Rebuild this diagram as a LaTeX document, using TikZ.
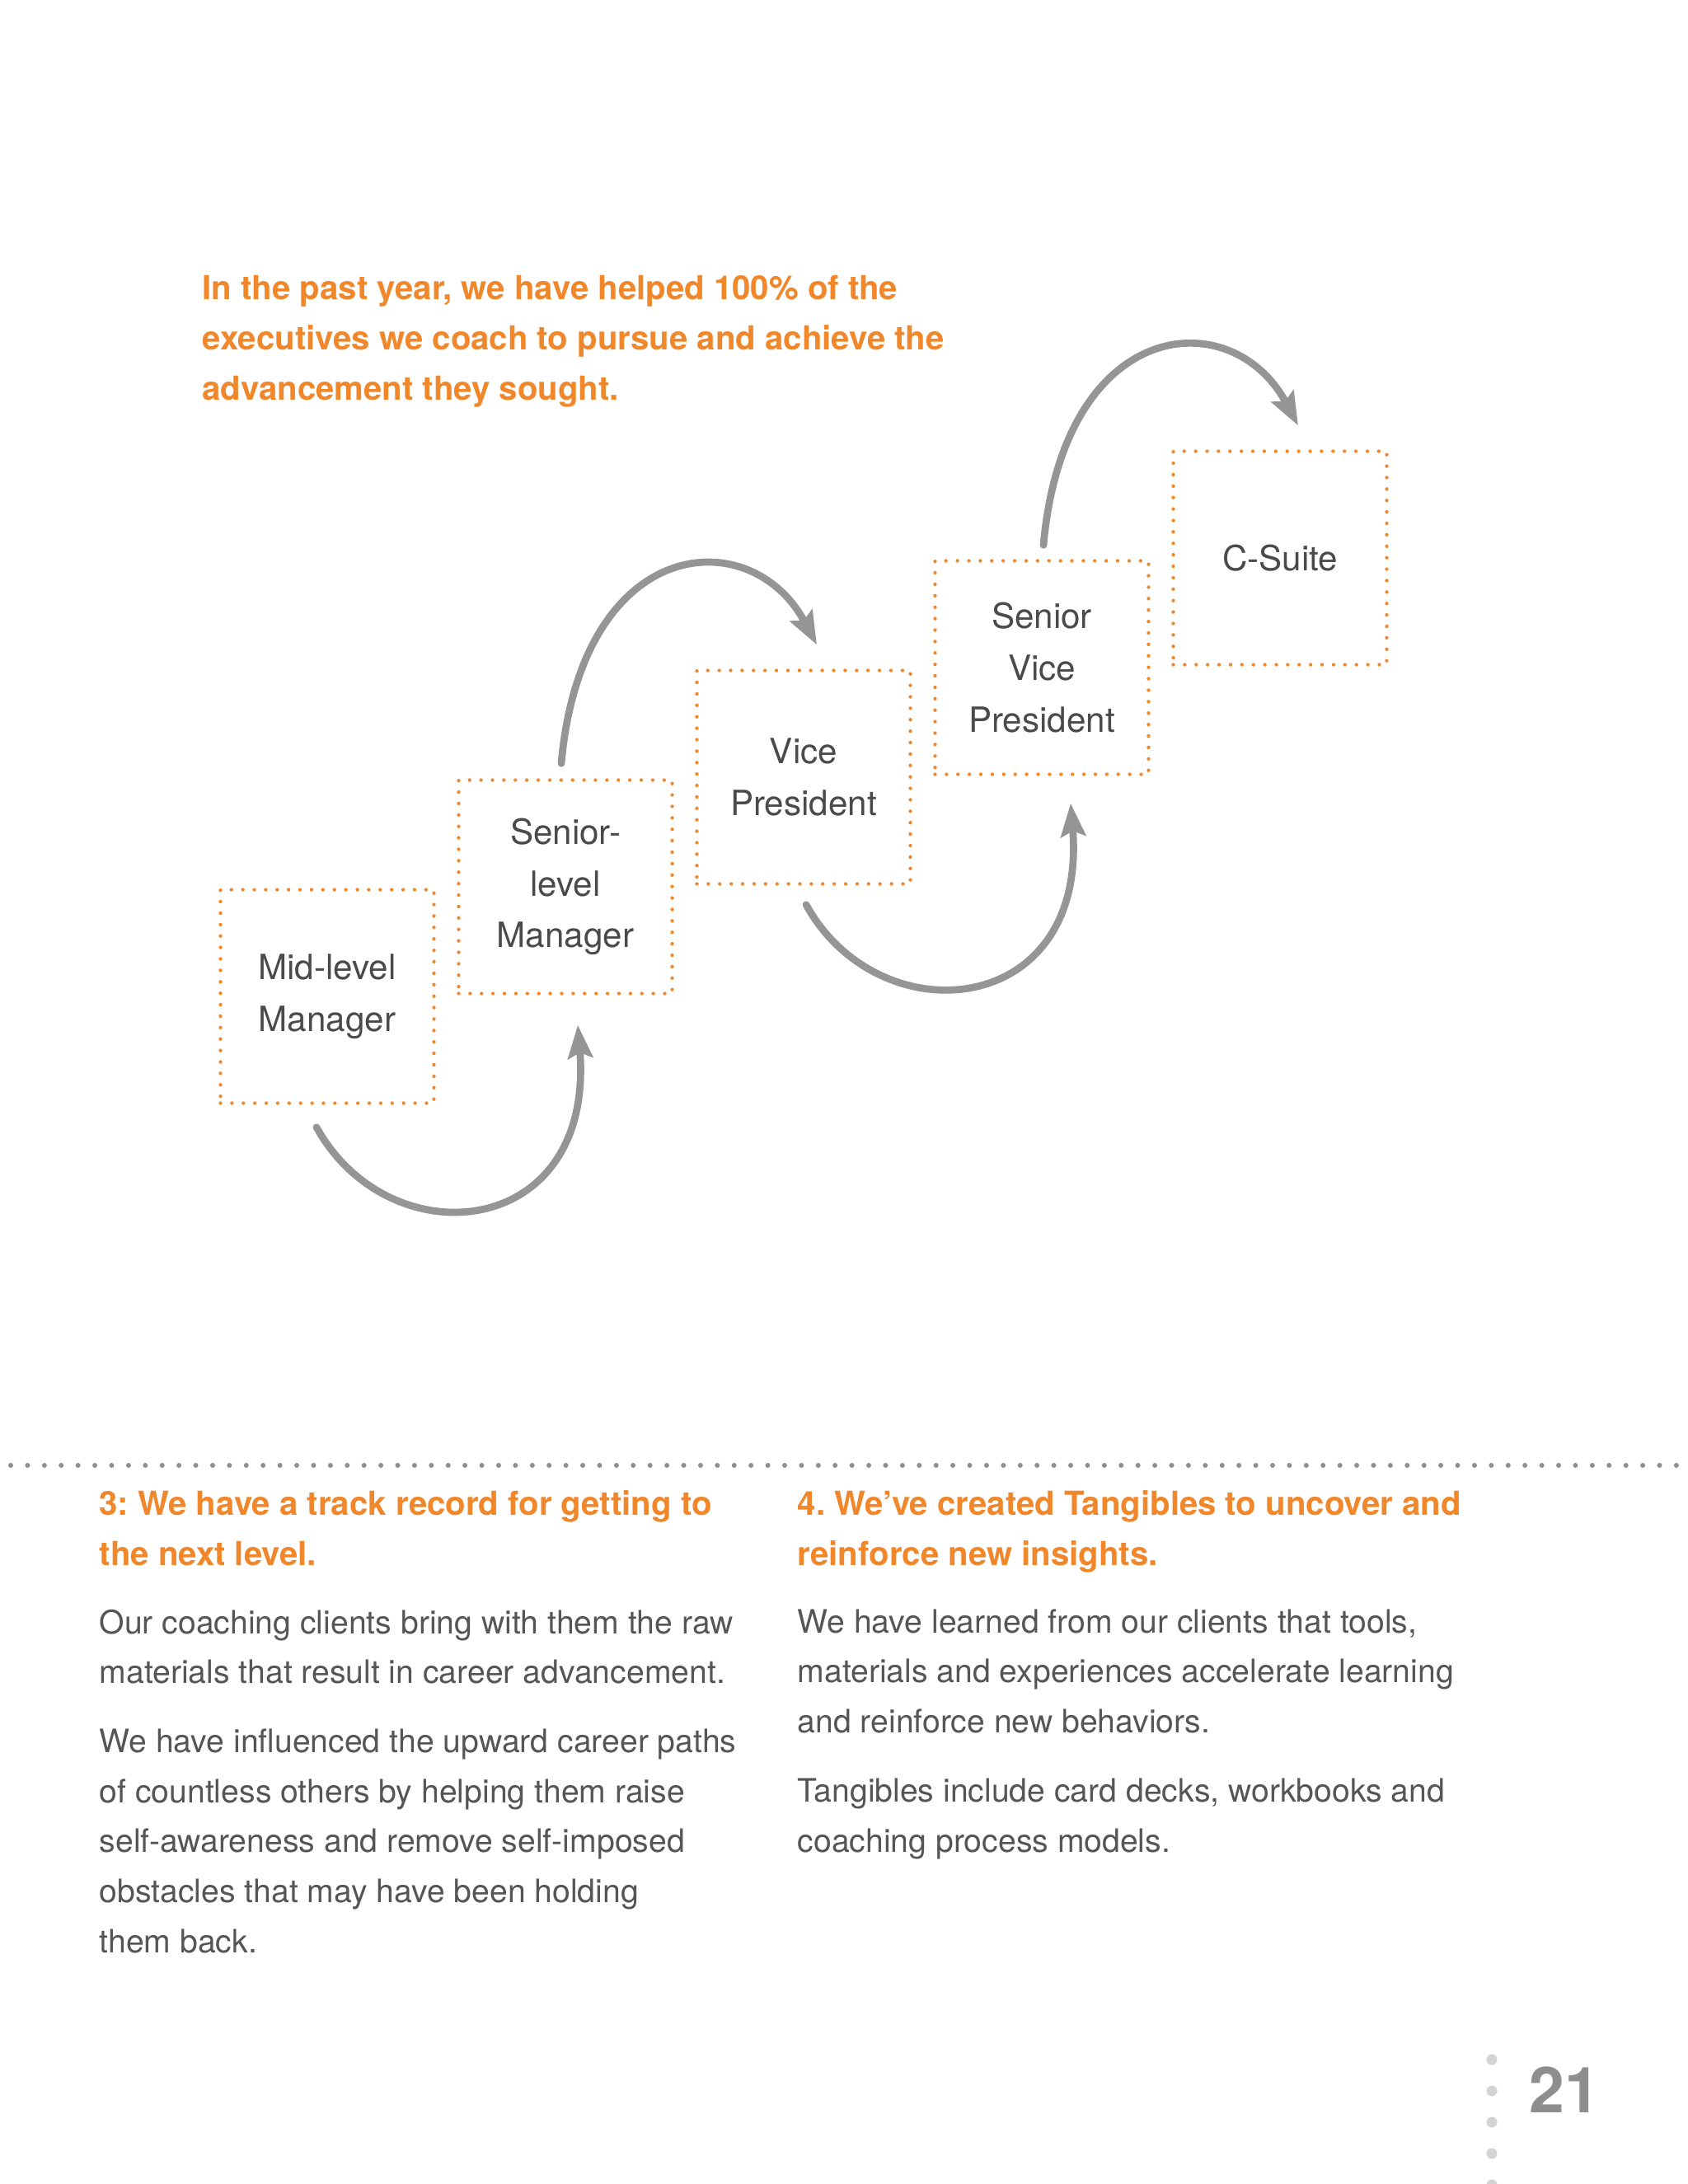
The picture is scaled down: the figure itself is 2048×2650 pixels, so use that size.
\documentclass[tikz,border=0pt]{standalone}
\usepackage{fontspec}
\setmainfont{TeX Gyre Heros}
\usetikzlibrary{arrows.meta}
\frenchspacing

\begin{document}
\begin{tikzpicture}[x=0.29883pt, y=-0.29883pt,
    levelBox/.style={draw=orangeColour, line width=1.3pt, dash pattern=on 0pt off 4.15pt, line cap=round,
        minimum size=77.4pt, inner sep=0pt, align=center, text=labelColour, font=\fontsize{12.6}{18.7}\selectfont},
    climb/.style={draw=arrowColour, line width=2.6pt, line cap=round, -{Stealth[length=12pt, width=9pt, inset=2pt]}},
    heading/.style={anchor=base west, align=left, inner sep=0pt, text=orangeColour, font=\fontsize{12}{18.1}\selectfont\bfseries},
    bodyText/.style={anchor=base west, align=left, inner sep=0pt, text=bodyColour, font=\fontsize{11.7}{18.1}\selectfont}]

    \definecolor{orangeColour}{HTML}{F0872B}
    \definecolor{labelColour}{HTML}{4A4A4A}
    \definecolor{bodyColour}{HTML}{555555}
    \definecolor{arrowColour}{HTML}{959595}
    \definecolor{ruleColour}{HTML}{909090}
    \definecolor{pageColour}{HTML}{8E8E8E}
    \definecolor{dotColour}{HTML}{D4D4D4}

    % Page frame (letter size, 1 unit = 1 pixel)
    \useasboundingbox (0,0) rectangle (2048,2650);

    % Headline (placed at the baseline of its last line)
    \node[heading] (headline) at (245,485) {In the past year, we have helped 100\% of the\\executives we coach to pursue and achieve the\\advancement they sought.};

    % Career levels
    \node[levelBox] (L1) at (397,1209) {Mid-level\\Manager};
    \node[levelBox] (L2) at (686,1076) {Senior-\\level\\Manager};
    \node[levelBox] (L3) at (975,943) {Vice\\President};
    \node[levelBox] (L4) at (1264,810) {Senior\\Vice\\President};
    \node[levelBox] (L5) at (1553,677) {C-Suite};

    % Arrows below the boxes
    \draw[climb] ([shift={(-13,27)}]L1.south) .. controls +(88,160) and +(21,262) .. ([shift={(15,36)}]L2.south);
    \draw[climb] ([shift={(3,23)}]L3.south) .. controls +(88,160) and +(21,262) .. ([shift={(35,33)}]L4.south);

    % Arrows above the boxes
    \draw[climb] ([shift={(-5,-18)}]L2.north) .. controls +(25,-278) and +(-80,-150) .. ([shift={(16,-29)}]L3.north);
    \draw[climb] ([shift={(2,-17)}]L4.north) .. controls +(25,-278) and +(-80,-150) .. ([shift={(22,-29)}]L5.north);

    % Dotted rule
    \coordinate (ruleStart) at (13,1778);
    \coordinate (ruleEnd) at (2048,1778);
    \draw[ruleColour, line width=1.8pt, dash pattern=on 0pt off 6.1pt, line cap=round] (ruleStart) -- (ruleEnd);

    % Two columns (nodes placed at the baseline of their last line)
    \node[heading] (leftHead) at (120,1899) {3: We have a track record for getting to\\the next level.};
    \node[heading] (rightHead) at (967,1899) {4. We’ve created Tangibles to uncover and\\reinforce new insights.};

    \node[bodyText] (leftBody) at (120,2369) {Our coaching clients bring with them the raw\\materials that result in career advancement.\\[7pt]We have influenced the upward career paths\\of countless others by helping them raise\\self-awareness and remove self-imposed\\obstacles that may have been holding\\them back.};
    \node[bodyText] (rightBody) at (967,2247) {We have learned from our clients that tools,\\materials and experiences accelerate learning\\and reinforce new behaviors.\\[7pt]Tangibles include card decks, workbooks and\\coaching process models.};

    % Page number
    \foreach \y in {2499,2537,2575,2613,2651}
        \fill[dotColour] (1810,\y) circle (1.95pt);
    \node[anchor=base west, inner sep=0pt, text=pageColour, font=\fontsize{23}{23}\selectfont\bfseries] (pageNum) at (1855,2563) {21};

\end{tikzpicture}
\end{document}
